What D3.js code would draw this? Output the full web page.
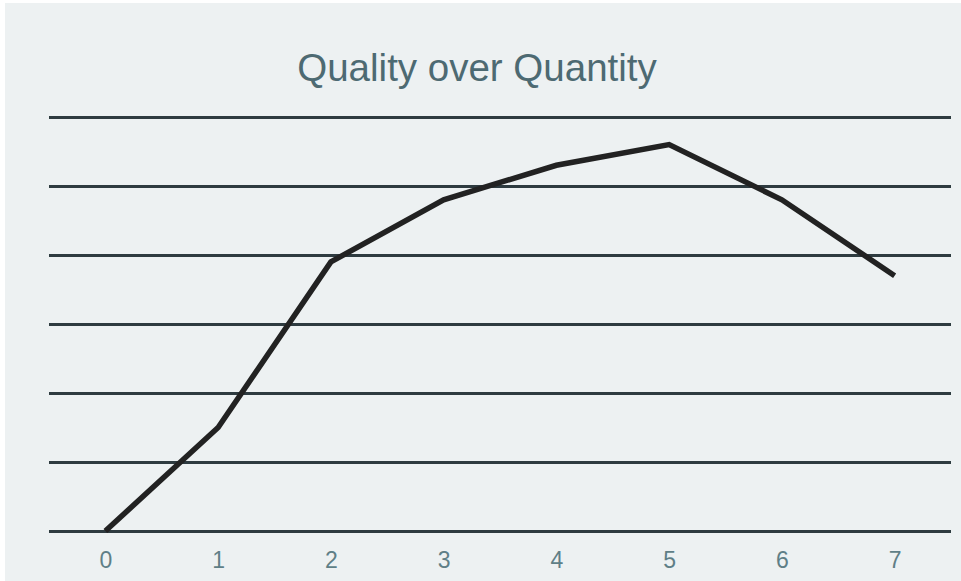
<!DOCTYPE html>
<html>
<head>
<meta charset="utf-8">
<script src="https://cdn.jsdelivr.net/npm/d3@7"></script>
<style>
  html, body { margin: 0; padding: 0; background: #ffffff; }
  svg { display: block; }
</style>
</head>
<body>
<svg id="chart" width="961" height="581"></svg>
<script>
// Chart data
const categories = [0, 1, 2, 3, 4, 5, 6, 7];
const quality = [0, 1.5, 3.9, 4.8, 5.3, 5.6, 4.8, 3.7];
const gridTicks = [0, 1, 2, 3, 4, 5, 6];
const chartTitle = "Quality over Quantity";

const W = 961, H = 581;
const margin = { top: 117, right: 10, bottom: 50, left: 49 };
const plotRight = 951;

const svg = d3.select("#chart");

// panel background
svg.append("rect")
  .attr("x", 5).attr("y", 3)
  .attr("width", W - 5).attr("height", H - 3)
  .attr("fill", "#edf1f2");

const x = d3.scalePoint()
  .domain(categories)
  .range([margin.left, plotRight])
  .padding(0.5);

const y = d3.scaleLinear()
  .domain([0, 6])
  .range([531, 117]);

// horizontal grid lines
const yAxis = d3.axisLeft(y)
  .tickValues(gridTicks)
  .tickSize(-(plotRight - margin.left))
  .tickFormat("");
const gy = svg.append("g")
  .attr("transform", `translate(${margin.left},0)`)
  .call(yAxis);
gy.select(".domain").remove();
gy.selectAll(".tick line")
  .attr("stroke", "#2e3b40")
  .attr("stroke-width", 3);

// category labels along the bottom
const xAxis = d3.axisBottom(x).tickSize(0).tickPadding(0);
const gx = svg.append("g")
  .attr("transform", `translate(0,${y(0)})`)
  .call(xAxis);
gx.select(".domain").remove();
gx.attr("font-size", null).attr("font-family", null);
gx.selectAll(".tick text")
  .attr("dy", null)
  .attr("y", 37)
  .attr("fill", "#5f7f87")
  .style("font-family", "'Liberation Sans', Arial, sans-serif")
  .style("font-size", "23px");

// the series line
const line = d3.line()
  .x((d, i) => x(categories[i]))
  .y(d => y(d));
svg.append("path")
  .datum(quality)
  .attr("d", line)
  .attr("fill", "none")
  .attr("stroke", "#222222")
  .attr("stroke-width", 5.5)
  .attr("stroke-linejoin", "miter");

// title
svg.append("text")
  .attr("x", 477)
  .attr("y", 81)
  .attr("text-anchor", "middle")
  .attr("fill", "#4d6a72")
  .style("font-family", "'Liberation Sans', Arial, sans-serif")
  .style("font-size", "38.5px")
  .text(chartTitle);
</script>
</body>
</html>
